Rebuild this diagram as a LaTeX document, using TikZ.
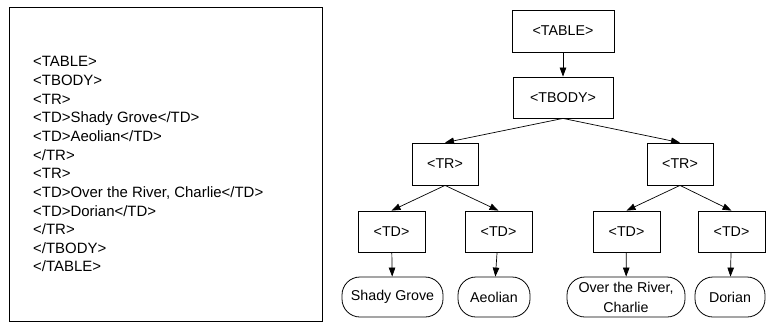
\documentclass[tikz,border=0pt]{standalone}
\usepackage{fontspec}
\setmainfont{Liberation Sans}
\usetikzlibrary{arrows.meta}
\begin{document}
\begin{tikzpicture}[x=1bp,y=-1bp,
  every node/.style={font=\fontsize{14.3}{18.7}\selectfont},
  tag/.style={draw, line width=0.8bp, rectangle, inner sep=0pt},
  leaf/.style={draw, line width=0.8bp, rounded corners=18bp, inner sep=0pt, align=center, minimum height=40bp},
  arr/.style={line width=0.7bp, -{Triangle[length=9bp,width=6.5bp]}}]
\useasboundingbox (0,0) rectangle (766,322);
% code listing
\node[draw, line width=0.8bp, minimum width=313bp, minimum height=314bp, inner sep=0pt] (codebox) at (165.5,164) {};
\node[anchor=north west, inner sep=0pt, align=left, font=\fontsize{15}{18.7}\selectfont] (code) at (33,56.5) {%
<TABLE>\\
<TBODY>\\
<TR>\\
<TD>Shady Grove</TD>\\
<TD>Aeolian</TD>\\
</TR>\\
<TR>\\
<TD>Over the River, Charlie</TD>\\
<TD>Dorian</TD>\\
</TR>\\
</TBODY>\\
</TABLE>};
% tree
\node[tag, minimum width=102bp, minimum height=42bp] (table) at (563,31) {<TABLE>};
\node[tag, minimum width=100bp, minimum height=41bp] (tbody) at (563,97.5) {<TBODY>};
\node[tag, minimum width=66bp, minimum height=42bp] (tr1) at (445,164) {<TR>};
\node[tag, minimum width=66bp, minimum height=42bp] (tr2) at (680,164) {<TR>};
\node[tag, minimum width=67bp, minimum height=41bp] (td1) at (391.5,231.5) {<TD>};
\node[tag, minimum width=67bp, minimum height=41bp] (td2) at (498.5,231.5) {<TD>};
\node[tag, minimum width=67bp, minimum height=41bp] (td3) at (626.5,231.5) {<TD>};
\node[tag, minimum width=67bp, minimum height=41bp] (td4) at (731.5,231.5) {<TD>};
\node[leaf, minimum width=101bp] (l1) at (392.5,297) {Shady Grove};
\node[leaf, minimum width=72bp] (l2) at (494,297) {Aeolian};
\node[leaf, minimum width=118bp, font=\fontsize{14.3}{20}\selectfont] (l3) at (626,297) {Over the River,\\Charlie};
\node[leaf, minimum width=70bp] (l4) at (730,297) {Dorian};
\draw[arr] (table) -- (tbody);
\draw[arr] (tbody.south) -- (tr1.north);
\draw[arr] (tbody.south) -- (tr2.north);
\draw[arr] (tr1.south) -- (td1.north);
\draw[arr] (tr1.south) -- (td2.north);
\draw[arr] (tr2.south) -- (td3.north);
\draw[arr] (tr2.south) -- (td4.north);
\draw[arr] (td1) -- (l1);
\draw[arr] (td2) -- (l2);
\draw[arr] (td3) -- (l3);
\draw[arr] (td4) -- (l4);
\end{tikzpicture}
\end{document}
